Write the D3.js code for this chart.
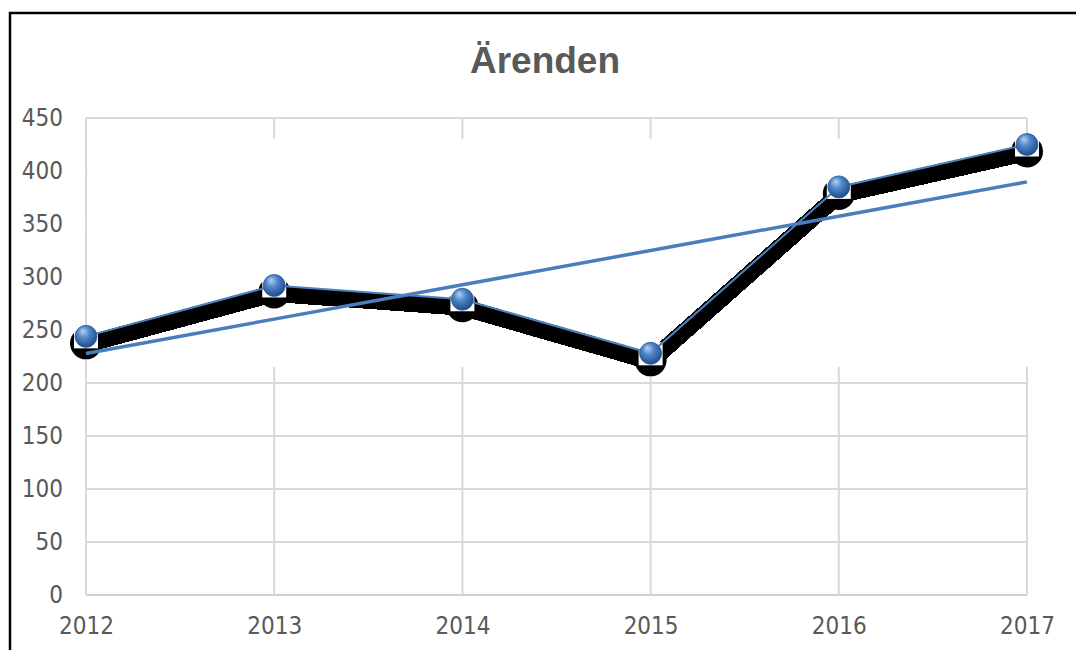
<!DOCTYPE html>
<html>
<head>
<meta charset="utf-8">
<script src="https://cdn.jsdelivr.net/npm/d3@7"></script>
<style>
  body { margin: 0; background: #fff; }
</style>
</head>
<body>
<div class="fondo"></div>
<script>
var years = [2012, 2013, 2014, 2015, 2016, 2017];
var arenden = [244, 292, 279, 228, 385, 425];
var yTicks = [0, 50, 100, 150, 200, 250, 300, 350, 400, 450];
var titel = "Ärenden";

var svg = d3
  .select('.fondo')
  .append('svg')
  .attr('width', 1076)
  .attr('height', 650);

var xScale = d3.scalePoint()
  .domain(years)
  .range([86, 1027]);

var yScale = d3.scaleLinear()
  .domain([0, 450])
  .range([595, 118]);

// ram
svg.append('path')
  .attr('d', 'M10,650 V13 H1076')
  .attr('fill', 'none')
  .attr('stroke', '#000')
  .attr('stroke-width', 2.5);

svg.append('text')
  .attr('x', 545)
  .attr('y', 73)
  .attr('text-anchor', 'middle')
  .attr('font-family', '"Liberation Sans", Arial, sans-serif')
  .attr('font-weight', 'bold')
  .attr('font-size', 37)
  .attr('fill', '#595959')
  .text(titel);

// rutnät
svg.append('g')
  .selectAll('line')
  .data(yTicks)
  .enter()
  .append('line')
  .attr('x1', 86)
  .attr('x2', 1027)
  .attr('y1', d => yScale(d))
  .attr('y2', d => yScale(d))
  .attr('stroke', d => d === 0 ? '#d0d0d0' : '#d9d9d9')
  .attr('stroke-width', 2);

svg.append('g')
  .selectAll('line')
  .data(years)
  .enter()
  .append('line')
  .attr('x1', d => xScale(d))
  .attr('x2', d => xScale(d))
  .attr('y1', yScale(450))
  .attr('y2', yScale(0))
  .attr('stroke', '#d9d9d9')
  .attr('stroke-width', 2);

// vit yta som döljer rutnätet
svg.append('rect')
  .attr('x', 87.5)
  .attr('y', 139)
  .attr('width', 945)
  .attr('height', 228)
  .attr('fill', '#fff');

var xAxis = d3.axisBottom(xScale).tickSize(0).tickPadding(22);
var yAxis = d3.axisLeft(yScale).tickValues(yTicks).tickSize(0).tickPadding(23);

var gx = svg.append('g')
  .attr('transform', 'translate(0,' + yScale(0) + ')')
  .call(xAxis);
var gy = svg.append('g')
  .attr('transform', 'translate(86,0)')
  .call(yAxis);

[gx, gy].forEach(function (g) {
  g.select('.domain').remove();
  g.selectAll('text')
    .attr('font-family', '"DejaVu Sans Condensed", sans-serif')
    .attr('font-stretch', 'condensed')
    .attr('font-size', 24)
    .attr('fill', '#595959');
});

// trendlinje (linjär regression)
var n = arenden.length;
var mx = d3.mean(d3.range(n));
var my = d3.mean(arenden);
var lutning = d3.sum(arenden, (v, i) => (i - mx) * (v - my)) / d3.sum(d3.range(n), i => (i - mx) * (i - mx));
var intercept = my - lutning * mx;
var trend = years.map((y, i) => [y, intercept + lutning * i]);

var punkter = years.map((y, i) => [y, arenden[i]]);

var linje = d3.line()
  .x(d => xScale(d[0]))
  .y(d => yScale(d[1]));

// skugga
svg.append('path')
  .datum(punkter)
  .attr('d', linje)
  .attr('fill', 'none')
  .attr('stroke', '#000')
  .attr('stroke-width', 17)
  .attr('shape-rendering', 'crispEdges')
  .attr('transform', 'translate(0,8)');

svg.append('g')
  .selectAll('circle')
  .data(punkter)
  .enter()
  .append('circle')
  .attr('cx', d => xScale(d[0]))
  .attr('cy', d => yScale(d[1]) + 7)
  .attr('r', 16)
  .attr('fill', '#000');

svg.append('g')
  .selectAll('rect')
  .data(punkter)
  .enter()
  .append('rect')
  .attr('x', d => xScale(d[0]) - 12)
  .attr('y', d => yScale(d[1]) - 11)
  .attr('width', 24)
  .attr('height', 23)
  .attr('fill', '#fff');

svg.append('path')
  .datum(trend)
  .attr('d', linje)
  .attr('fill', 'none')
  .attr('stroke', '#4a7ebb')
  .attr('stroke-width', 3.5);

svg.append('path')
  .datum(punkter)
  .attr('d', linje)
  .attr('fill', 'none')
  .attr('stroke', '#4f81bd')
  .attr('stroke-width', 2);

var grad = svg.append('defs')
  .append('radialGradient')
  .attr('id', 'klot')
  .attr('cx', '45%')
  .attr('cy', '40%')
  .attr('r', '60%')
  .attr('fx', '35%')
  .attr('fy', '25%');
grad.append('stop').attr('offset', '0%').attr('stop-color', '#b5d0f2');
grad.append('stop').attr('offset', '45%').attr('stop-color', '#4f86c9');
grad.append('stop').attr('offset', '100%').attr('stop-color', '#1f4d8a');

svg.append('g')
  .selectAll('circle')
  .data(punkter)
  .enter()
  .append('circle')
  .attr('cx', d => xScale(d[0]))
  .attr('cy', d => yScale(d[1]))
  .attr('r', 11)
  .attr('fill', 'url(#klot)')
  .attr('stroke', '#2f5e99')
  .attr('stroke-width', 0.8);
</script>
</body>
</html>
